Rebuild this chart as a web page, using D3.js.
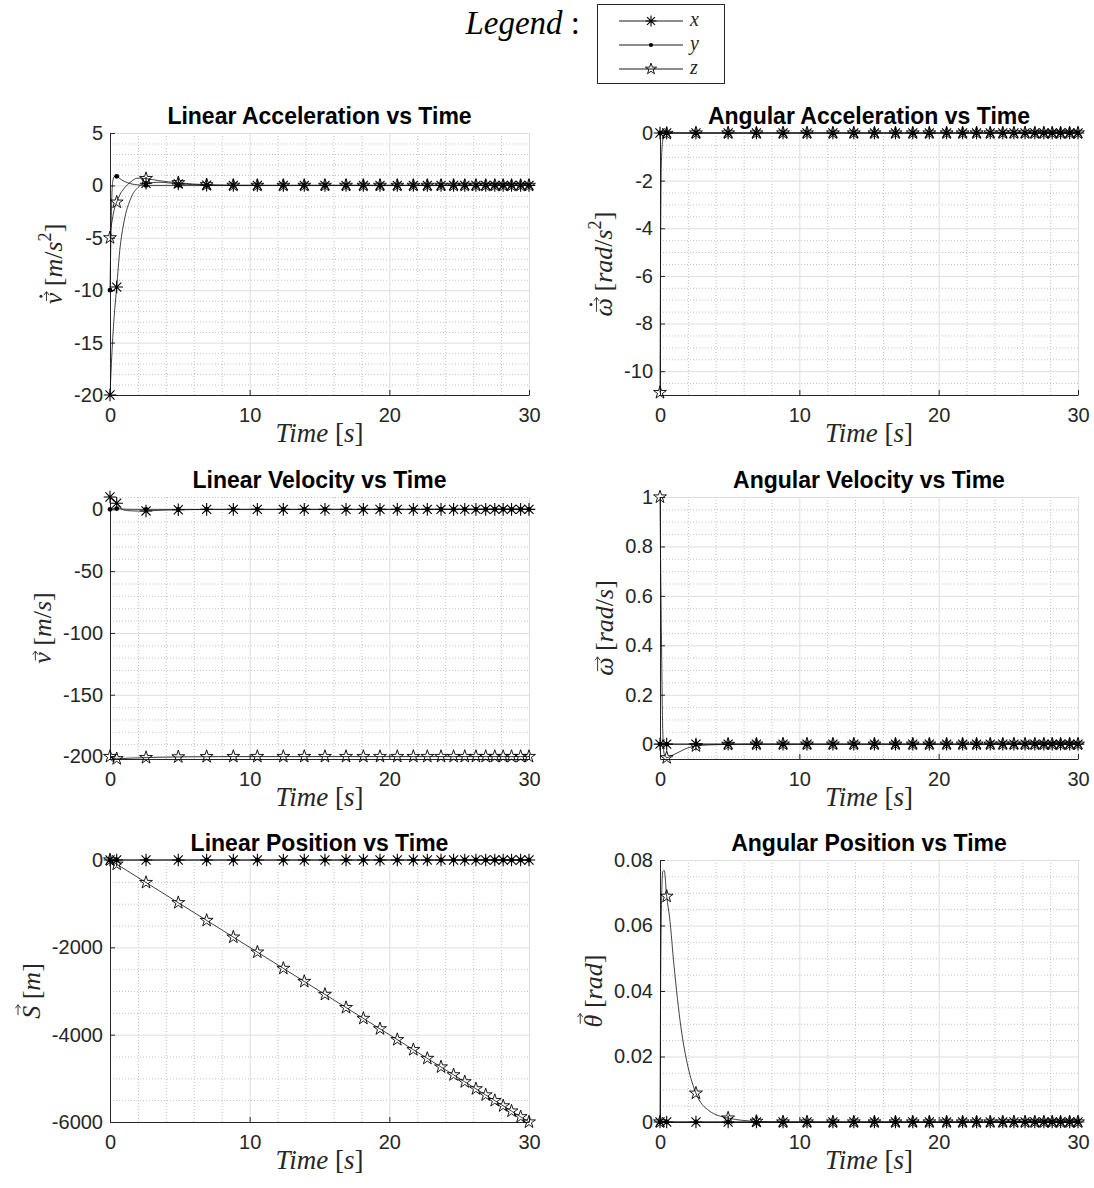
<!DOCTYPE html>
<html>
<head>
<meta charset="utf-8">
<script src="https://cdn.jsdelivr.net/npm/d3@7"></script>
<style>
  body { margin: 0; background: #fff; }
  svg { display: block; }
</style>
</head>
<body>
<script>
// solver output times [s] and the samples that carry a marker
var time = [0, 0.05, 0.1, 0.2, 0.3, 0.48, 0.7, 1.0, 1.5, 2.0, 2.58, 3.5, 4.89, 6.92, 8.83,
  10.55, 12.41, 13.91, 15.39, 16.9, 18.14, 19.33, 20.57, 21.72, 22.72, 23.7, 24.6, 25.4,
  26.2, 26.9, 27.55, 28.15, 28.75, 29.4, 30];
var markerIdx = [0, 5, 10, 12, 13, 14, 15, 16, 17, 18, 19, 20, 21, 22, 23, 24, 25, 26, 27,
  28, 29, 30, 31, 32, 33, 34];
var seriesNames = ['x', 'y', 'z'];
var timeTicks = [0, 10, 20, 30];

var zeroSeries = [0, 0, 0, 0, 0, 0, 0, 0, 0, 0, 0, 0, 0, 0, 0, 0, 0, 0, 0, 0, 0, 0, 0, 0, 0,
  0, 0, 0, 0, 0, 0, 0, 0, 0, 0];

// linear acceleration [m/s^2]
var linAccX = [-20, -18.5, -17, -14.5, -12.5, -9.7, -6.2, -3.5, -1.2, -0.2, 0.2, 0.3, 0.15,
  0.03, 0, 0, 0, 0, 0, 0, 0, 0, 0, 0, 0, 0, 0, 0, 0, 0, 0, 0, 0, 0, 0];
var linAccY = [-10, -6, -2.5, 0.4, 0.85, 0.87, 0.65, 0.4, 0.15, 0.05, 0, 0, 0, 0, 0, 0, 0,
  0, 0, 0, 0, 0, 0, 0, 0, 0, 0, 0, 0, 0, 0, 0, 0, 0, 0];
var linAccZ = [-5, -4.3, -3.8, -3, -2.3, -1.6, -0.9, -0.3, 0.35, 0.7, 0.65, 0.45, 0.25, 0.06,
  0.01, 0, 0, 0, 0, 0, 0, 0, 0, 0, 0, 0, 0, 0, 0, 0, 0, 0, 0, 0, 0];
var linAccTicks = [-20, -15, -10, -5, 0, 5];

// angular acceleration [rad/s^2]
var angAccX = zeroSeries;
var angAccY = zeroSeries;
var angAccZ = [-10.9, -4, -1.2, -0.3, -0.1, -0.02, 0, 0, 0, 0, 0, 0, 0, 0, 0, 0, 0, 0, 0, 0,
  0, 0, 0, 0, 0, 0, 0, 0, 0, 0, 0, 0, 0, 0, 0];
var angAccTicks = [-10, -8, -6, -4, -2, 0];

// linear velocity [m/s]
var linVelX = [10, 9.6, 9.2, 8, 7, 5, 1.5, -0.5, -1.2, -1.4, -1.3, -0.8, -0.3, -0.05, 0, 0,
  0, 0, 0, 0, 0, 0, 0, 0, 0, 0, 0, 0, 0, 0, 0, 0, 0, 0, 0];
var linVelY = [0, 0.2, 0.4, 0.6, 0.7, 0.6, 0.4, 0.2, 0.05, 0, 0, 0, 0, 0, 0, 0, 0, 0, 0, 0,
  0, 0, 0, 0, 0, 0, 0, 0, 0, 0, 0, 0, 0, 0, 0];
var linVelZ = [-200, -200.5, -200.9, -201.3, -201.6, -201.8, -201.8, -201.6, -201.3, -201.1,
  -200.9, -200.6, -200.3, -200.1, -200, -200, -200, -200, -200, -200, -200, -200, -200, -200,
  -200, -200, -200, -200, -200, -200, -200, -200, -200, -200, -200];
var linVelTicks = [-200, -150, -100, -50, 0];

// angular velocity [rad/s]
var angVelX = zeroSeries;
var angVelY = zeroSeries;
var angVelZ = [1, 0.7, 0.45, 0.05, -0.04, -0.055, -0.05, -0.042, -0.028, -0.015, -0.007,
  -0.003, -0.001, 0, 0, 0, 0, 0, 0, 0, 0, 0, 0, 0, 0, 0, 0, 0, 0, 0, 0, 0, 0, 0, 0];
var angVelTicks = [0, 0.2, 0.4, 0.6, 0.8, 1];

// linear position [m]
var linPosX = zeroSeries;
var linPosY = zeroSeries;
var linPosZ = [0, -10, -20, -40, -60, -96, -140, -200, -300, -400, -516, -700, -978, -1384,
  -1766, -2110, -2482, -2782, -3078, -3380, -3628, -3866, -4114, -4344, -4544, -4740, -4920,
  -5080, -5240, -5380, -5510, -5630, -5750, -5880, -6000];
var linPosTicks = [-6000, -4000, -2000, 0];

// angular position [rad]
var angPosX = zeroSeries;
var angPosY = zeroSeries;
var angPosZ = [0, 0.045, 0.065, 0.0765, 0.0768, 0.0689, 0.062, 0.048, 0.029, 0.017, 0.0088,
  0.0035, 0.0012, 0.0002, 0, 0, 0, 0, 0, 0, 0, 0, 0, 0, 0, 0, 0, 0, 0, 0, 0, 0, 0, 0, 0];
var angPosTicks = [0, 0.02, 0.04, 0.06, 0.08];

var ink = '#262626';
var serif = '"Liberation Serif", "DejaVu Serif", serif';
var markerKind = ['ast', 'dot', 'star'];

var panels = [
  { title: 'Linear Acceleration vs Time', col: 0, row: 0, dom: [-20, 5], ticks: linAccTicks, minor: 1,
    data: [linAccX, linAccY, linAccZ],
    label: [{ s: 'v', i: 1, acc: 'dotvec' }, { s: ' [' }, { s: 'm', i: 1 }, { s: '/' }, { s: 's', i: 1 }, { s: '2', sup: 1 }, { s: ']' }] },
  { title: 'Angular Acceleration vs Time', col: 1, row: 0, dom: [-11, 0], ticks: angAccTicks, minor: 0.5,
    data: [angAccX, angAccY, angAccZ],
    label: [{ s: 'ω', i: 1, acc: 'dotvec' }, { s: ' [' }, { s: 'rad', i: 1 }, { s: '/' }, { s: 's', i: 1 }, { s: '2', sup: 1 }, { s: ']' }] },
  { title: 'Linear Velocity vs Time', col: 0, row: 1, dom: [-202, 10], ticks: linVelTicks, minor: 10,
    data: [linVelX, linVelY, linVelZ],
    label: [{ s: 'v', i: 1, acc: 'vec' }, { s: ' [' }, { s: 'm', i: 1 }, { s: '/' }, { s: 's', i: 1 }, { s: ']' }] },
  { title: 'Angular Velocity vs Time', col: 1, row: 1, dom: [-0.06, 1], ticks: angVelTicks, minor: 0.05,
    data: [angVelX, angVelY, angVelZ],
    label: [{ s: 'ω', i: 1, acc: 'vec' }, { s: ' [' }, { s: 'rad', i: 1 }, { s: '/' }, { s: 's', i: 1 }, { s: ']' }] },
  { title: 'Linear Position vs Time', col: 0, row: 2, dom: [-6000, 0], ticks: linPosTicks, minor: 500,
    data: [linPosX, linPosY, linPosZ],
    label: [{ s: 'S', i: 1, acc: 'vec', tall: 1 }, { s: ' [' }, { s: 'm', i: 1 }, { s: ']' }] },
  { title: 'Angular Position vs Time', col: 1, row: 2, dom: [0, 0.08], ticks: angPosTicks, minor: 0.005,
    data: [angPosX, angPosY, angPosZ],
    label: [{ s: 'θ', i: 1, acc: 'vec', tall: 1 }, { s: ' [' }, { s: 'rad', i: 1 }, { s: ']' }] }
];

var cols = [[110, 529], [660, 1078]];
var rows = [[133, 395], [497, 759], [860, 1122]];

var svg = d3.select('body').append('svg')
  .attr('width', 1094).attr('height', 1188)
  .style('font-family', '"Liberation Sans", Arial, sans-serif');

// LaTeX-ish label made of tspans, with vector arrows / dots drawn as paths
function mathText(parent, tokens, size) {
  var t = parent.append('text').attr('text-anchor', 'middle').attr('fill', ink)
    .style('font-family', serif).style('font-size', size + 'px');
  var raised = false, pos = 0, accents = [];
  tokens.forEach(function (tok) {
    var sp = t.append('tspan').text(tok.s);
    if (tok.i) sp.style('font-style', 'italic');
    if (tok.sup) {
      sp.attr('dy', -size * 0.42).style('font-size', (size * 0.7) + 'px');
      raised = true;
    } else if (raised) {
      sp.attr('dy', size * 0.42);
      raised = false;
    }
    if (tok.acc) accents.push({ at: pos, acc: tok.acc, tall: tok.tall });
    pos += tok.s.length;
  });
  accents.forEach(function (a) {
    var b = t.node().getExtentOfChar(a.at);
    var ya = -size * (a.tall ? 0.84 : 0.6);
    var xa = b.x + b.width * 0.18 + size * 0.05, xb = b.x + b.width * 0.92 + size * 0.08;
    parent.append('path')
      .attr('d', 'M' + xa + ',' + ya + 'L' + xb + ',' + ya +
        'M' + (xb - 3.5) + ',' + (ya - 2.6) + 'L' + xb + ',' + ya + 'L' + (xb - 3.5) + ',' + (ya + 2.6))
      .attr('fill', 'none').attr('stroke', ink).attr('stroke-width', 0.9);
    if (a.acc === 'dotvec') {
      parent.append('circle').attr('cx', (xa + xb) / 2).attr('cy', ya - 5.5).attr('r', 1.5).attr('fill', ink);
    }
  });
  return t;
}

function drawMarker(g, kind, cx, cy, r) {
  if (kind === 'ast') {
    var d = r * 0.72;
    g.append('path')
      .attr('d', 'M' + (cx - r) + ',' + cy + 'h' + (2 * r) + 'M' + cx + ',' + (cy - r) + 'v' + (2 * r) +
        'M' + (cx - d) + ',' + (cy - d) + 'l' + (2 * d) + ',' + (2 * d) +
        'M' + (cx - d) + ',' + (cy + d) + 'l' + (2 * d) + ',' + (-2 * d))
      .attr('stroke', '#000').attr('stroke-width', 1.1).attr('fill', 'none');
  } else if (kind === 'dot') {
    g.append('circle').attr('cx', cx).attr('cy', cy).attr('r', r * 0.38).attr('fill', '#000');
  } else {
    g.append('path')
      .attr('d', d3.symbol(d3.symbolStar, r * r * 1.3)())
      .attr('transform', 'translate(' + cx + ',' + cy + ')')
      .attr('fill', 'none').attr('stroke', '#000').attr('stroke-width', 0.9);
  }
}

panels.forEach(function (p) {
  var x0 = cols[p.col][0], x1 = cols[p.col][1], y0 = rows[p.row][0], y1 = rows[p.row][1];
  var x = d3.scaleLinear().domain([0, 30]).range([x0, x1]);
  var y = d3.scaleLinear().domain(p.dom).range([y1, y0]);
  var g = svg.append('g');

  // minor grid
  var xMinor = d3.range(2, 31, 2).filter(function (v) { return v % 10 !== 0; });
  var yMinor = d3.range(Math.ceil(p.dom[0] / p.minor - 1e-9), Math.floor(p.dom[1] / p.minor + 1e-9) + 1)
    .map(function (k) { return k * p.minor; })
    .filter(function (v) { return !p.ticks.some(function (t) { return Math.abs(t - v) < p.minor * 0.01; }); });
  g.append('g').attr('transform', 'translate(0,' + y1 + ')')
    .call(d3.axisBottom(x).tickValues(xMinor).tickSize(-(y1 - y0)).tickFormat(''))
    .call(function (s) { s.select('.domain').remove(); })
    .selectAll('line').attr('stroke', '#b4b4b4').attr('stroke-dasharray', '1,2').attr('stroke-width', 0.8);
  g.append('g').attr('transform', 'translate(' + x0 + ',0)')
    .call(d3.axisLeft(y).tickValues(yMinor).tickSize(-(x1 - x0)).tickFormat(''))
    .call(function (s) { s.select('.domain').remove(); })
    .selectAll('line').attr('stroke', '#b4b4b4').attr('stroke-dasharray', '1,2').attr('stroke-width', 0.8);

  // major grid
  g.append('g').attr('transform', 'translate(0,' + y1 + ')')
    .call(d3.axisBottom(x).tickValues(timeTicks).tickSize(-(y1 - y0)).tickFormat(''))
    .call(function (s) { s.select('.domain').remove(); })
    .selectAll('line').attr('stroke', '#dedede');
  g.append('g').attr('transform', 'translate(' + x0 + ',0)')
    .call(d3.axisLeft(y).tickValues(p.ticks).tickSize(-(x1 - x0)).tickFormat(''))
    .call(function (s) { s.select('.domain').remove(); })
    .selectAll('line').attr('stroke', '#dedede');

  // axes, ticks pointing inwards
  var xAxisG = g.append('g').attr('transform', 'translate(0,' + y1 + ')')
    .call(d3.axisBottom(x).tickValues(timeTicks).tickSizeInner(-5).tickSizeOuter(0).tickPadding(13)
      .tickFormat(function (d) { return String(d); }));
  var yAxisG = g.append('g').attr('transform', 'translate(' + x0 + ',0)')
    .call(d3.axisLeft(y).tickValues(p.ticks).tickSizeInner(-5).tickSizeOuter(0).tickPadding(7)
      .tickFormat(function (d) { return String(d); }));
  [xAxisG, yAxisG].forEach(function (a) {
    a.select('.domain').attr('stroke', ink).attr('stroke-width', 1);
    a.selectAll('line').attr('stroke', ink);
    a.selectAll('text').attr('fill', ink).style('font-size', '20px').style('font-family', '"Liberation Sans", Arial, sans-serif');
  });

  // series: line then markers, drawn x, y, z
  var line = d3.line()
    .x(function (d, i) { return x(time[i]); })
    .y(function (d) { return y(d); })
    .curve(d3.curveMonotoneX);
  p.data.forEach(function (vals, si) {
    g.append('path').datum(vals).attr('d', line)
      .attr('fill', 'none').attr('stroke', '#111').attr('stroke-width', 0.8);
    var mg = g.append('g');
    markerIdx.forEach(function (i) {
      drawMarker(mg, markerKind[si], x(time[i]), y(vals[i]), 6.3);
    });
  });

  // title
  g.append('text').attr('x', (x0 + x1) / 2).attr('y', y0 - 9).attr('text-anchor', 'middle')
    .style('font-size', '23px').style('font-weight', 'bold').attr('fill', '#000').text(p.title);

  // x label
  var xl = g.append('g').attr('transform', 'translate(' + ((x0 + x1) / 2) + ',' + (y1 + 47) + ')');
  mathText(xl, [{ s: 'Time', i: 1 }, { s: ' [' }, { s: 's', i: 1 }, { s: ']' }], 27);

  // y label left of the tick labels (axis bbox is in the axis group's own space)
  var tb = yAxisG.node().getBBox();
  var yl = g.append('g').attr('transform', 'translate(' + (x0 + tb.x - 12) + ',' + ((y0 + y1) / 2) + ') rotate(-90)');
  mathText(yl, p.label, 26);
});

// legend
var lg = svg.append('g');
var lt = lg.append('text').attr('x', 580).attr('y', 34).attr('text-anchor', 'end')
  .attr('fill', '#000').style('font-family', serif).style('font-size', '33px');
lt.append('tspan').style('font-style', 'italic').text('Legend');
lt.append('tspan').text(' :');
lg.append('rect').attr('x', 597.5).attr('y', 4.5).attr('width', 127).attr('height', 79)
  .attr('fill', '#fff').attr('stroke', ink).attr('stroke-width', 1);
var legendRowY = [21, 45, 69];
seriesNames.forEach(function (name, i) {
  var ry = legendRowY[i];
  lg.append('line').attr('x1', 619).attr('x2', 683).attr('y1', ry).attr('y2', ry)
    .attr('stroke', '#000').attr('stroke-width', 0.9);
  drawMarker(lg, markerKind[i], 651, ry, 5.5);
  lg.append('text').attr('x', 690).attr('y', ry + 5).attr('fill', ink)
    .style('font-family', serif).style('font-style', 'italic').style('font-size', '20px').text(name);
});
</script>
</body>
</html>
